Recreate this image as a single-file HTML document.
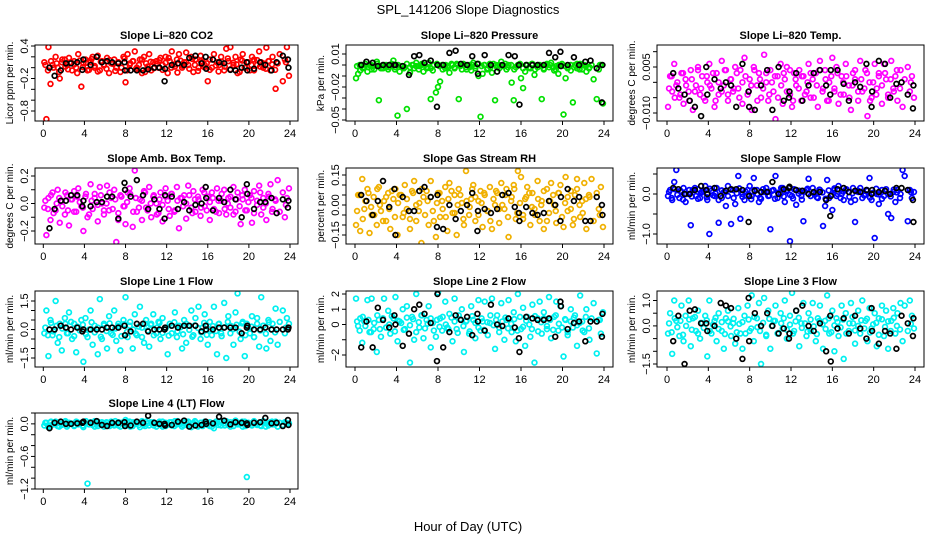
<!DOCTYPE html>
<html><head><meta charset="utf-8"><title>SPL_141206 Slope Diagnostics</title>
<style>
body{margin:0;background:#fff;}
svg{display:block;font-family:"Liberation Sans",Arial,sans-serif;}
.tick{font-size:11px;fill:#000;}
.ptitle{font-size:11px;font-weight:bold;fill:#000;}
.ytitle{font-size:10px;fill:#000;}
</style></head>
<body>
<svg id="chart" width="936" height="540" viewBox="0 0 936 540" xmlns="http://www.w3.org/2000/svg">
<rect width="936" height="540" fill="#fff"/>
<text x="468" y="14" text-anchor="middle" font-size="13">SPL_141206  Slope Diagnostics</text>
<text x="468" y="531" text-anchor="middle" font-size="13">Hour of Day (UTC)</text>
<g id="panels"></g>
</svg>
<script>
// shared timestamps (hours UTC)
const hours = [0.1,0.3,0.5,0.7,0.9,1.2,1.4,1.6,1.8,2.1,
2.3,2.5,2.8,3.0,3.2,3.4,3.7,3.9,4.1,4.3,
4.6,4.8,5.0,5.3,5.5,5.7,5.9,6.2,6.4,6.6,
6.9,7.1,7.3,7.5,7.8,8.0,8.2,8.4,8.7,8.9,
9.1,9.4,9.6,9.8,10.0,10.3,10.5,10.7,11.0,11.2,
11.4,11.6,11.9,12.1,12.3,12.5,12.8,13.0,13.2,13.5,
13.7,13.9,14.1,14.4,14.6,14.8,15.1,15.3,15.5,15.7,
16.0,16.2,16.4,16.6,16.9,17.1,17.3,17.6,17.8,18.0,
18.2,18.5,18.7,18.9,19.2,19.4,19.6,19.8,20.1,20.3,
20.5,20.8,21.0,21.2,21.4,21.7,21.9,22.1,22.3,22.6,
22.8,23.0,23.3,23.5,23.7,23.9];
const hoursBand = [0.2,0.45,0.75,1.0,1.3,1.55,1.85,2.15,2.4,2.7,
3.0,3.3,3.55,3.85,4.15,4.45,4.7,5.0,5.3,5.6,
5.9,6.15,6.45,6.75,7.0,7.3,7.6,7.9,8.15,8.45,
8.75,9.0,9.3,9.6,9.9,10.15,10.45,10.75,11.05,11.3,
11.6,11.9,12.2,12.45,12.75,13.05,13.35,13.6,13.9,14.2,
14.5,14.75,15.05,15.35,15.65,15.9,16.2,16.5,16.8,17.05,
17.35,17.65,17.95,18.2,18.5,18.8,19.1,19.35,19.65,19.95,
20.25,20.5,20.8,21.1,21.4,21.65,21.95,22.25,22.55,23.6];
const hoursBlack = [0.6,1.1,1.7,2.2,2.7,3.3,3.8,3.9,4.6,5.2,5.7,6.2,6.7,7.3,7.9,7.95,8.5,9.1,9.7,10.2,10.8,11.3,11.8,11.85,12.5,13.1,13.7,14.2,14.8,15.4,15.8,15.85,16.5,17.1,17.6,18.2,18.7,19.3,19.8,19.85,20.5,21.1,21.6,22.2,22.7,23.3,23.8,23.85];
const xTicks = [0,4,8,12,16,20,24];

const titles = ["Slope Li\u2013820 CO2","Slope Li\u2013820 Pressure","Slope Li\u2013820 Temp.","Slope Amb. Box Temp.","Slope Gas Stream RH","Slope Sample Flow","Slope Line 1 Flow","Slope Line 2 Flow","Slope Line 3 Flow","Slope Line 4 (LT) Flow"];
const yTitles = ["Licor ppm per min.","kPa per min.","degrees C per min.","degrees C per min.","percent per min.","ml/min per min.","ml/min per min.","ml/min per min.","ml/min per min.","ml/min per min."];

const yTicks = [
[0.4,0.2,0,-0.2,-0.4,-0.6,-0.8],
[0.01,0,-0.01,-0.02,-0.03,-0.04,-0.05],
[0.01,0.005,0,-0.005,-0.01],
[0.2,0.1,0,-0.1,-0.2],
[0.15,0.1,0.05,0,-0.05,-0.1,-0.15],
[0.5,0,-0.5,-1.0],
[1.5,1,0.5,0,-0.5,-1,-1.5],
[2,1,0,-1,-2],
[1,0.5,0,-0.5,-1,-1.5],
[0.2,0,-0.2,-0.4,-0.6,-0.8,-1.0,-1.2]];
const yLabelVals = [[0.4,-0.2,-0.8],[0.01,-0.02,-0.05],[0.005,-0.01],[0.2,0,-0.2],[0.15,0,-0.15],[0,-1.0],[1.5,0,-1.5],[2,1,0,-2],[1,0,-1.5],[0,-0.6,-1.2]];
const yLabelText = [["0.4","\u22120.2","\u22120.8"],["0.01","\u22120.02","\u22120.05"],["0.005","\u22120.010"],["0.2","0.0","\u22120.2"],["0.15","0.00","\u22120.15"],["0.0","\u22121.0"],["1.5","0.0","\u22121.5"],["2","1","0","\u22122"],["1.0","0.0","\u22121.5"],["0.0","\u22120.6","\u22121.2"]];

const co2 = [0.1,-0.95,0.38,-0.3,0.05,0.2,0.0,-0.2,0.1,0.15,0.05,0.18,-0.05,0.12,0.0,0.25,-0.35,0.08,0.15,-0.05,0.1,0.2,0.0,0.22,-0.05,0.12,0.06,0.18,-0.1,0.08,0.15,0.0,0.1,-0.08,0.2,-0.27,0.25,0.05,0.12,0.3,0.0,0.15,-0.1,0.2,0.08,0.25,-0.05,0.1,0.12,0.0,0.18,0.05,0.2,-0.1,0.12,0.3,0.02,0.15,0.25,0.0,0.1,0.28,0.05,0.2,-0.08,0.15,0.0,0.22,0.1,0.05,-0.25,0.15,0.0,0.25,0.1,0.05,0.2,-0.05,0.35,0.12,0.38,0.05,0.2,-0.1,0.15,0.25,0.0,0.1,-0.05,0.2,0.15,0.05,0.3,0.1,0.0,0.37,0.12,-0.05,0.2,-0.39,0.08,0.25,-0.25,0.15,0.38,-0.15];
const co2Band = [0.05,-0.05,0.12,0.0,0.08,-0.08,0.15,0.02,-0.03,0.1,0.06,-0.1,0.13,0.01,0.09,-0.04,0.16,0.03,-0.07,0.11,0.04,-0.02,0.14,0.07,-0.06,0.1,0.0,0.17,-0.05,0.08,0.12,-0.03,0.05,0.15,-0.08,0.02,0.11,-0.01,0.07,0.14,-0.04,0.09,0.18,0.0,0.06,-0.09,0.13,0.03,0.1,-0.02,0.16,0.05,-0.06,0.12,0.01,0.08,-0.04,0.15,0.04,-0.07,0.11,0.02,0.17,-0.03,0.09,0.06,-0.08,0.13,0.0,0.1,0.05,-0.05,0.14,0.02,0.08,-0.02,0.12,0.06,-0.04,0.1];
const co2Black = [0.0,-0.15,-0.05,0.08,0.08,0.1,-0.04,0.15,0.05,0.2,0.1,0.12,0.1,0.08,0.1,-0.05,-0.05,-0.05,-0.05,-0.03,0.0,0.0,-0.25,-0.02,0.05,0.08,0.05,0.18,0.22,0.08,0.2,-0.02,0.15,0.1,0.08,-0.04,-0.05,0.0,0.1,-0.05,-0.02,0.1,0.05,-0.05,0.1,0.22,0.15,0.0];
const pressure = [-0.012,-0.008,-0.005,0.0,-0.002,-0.006,0.0,-0.004,-0.001,0.003,-0.032,-0.003,0.0,-0.002,-0.004,0.0,0.004,-0.002,-0.046,-0.006,-0.001,-0.002,-0.04,-0.007,0.0,-0.003,0.002,-0.001,0.0,-0.006,-0.003,0.002,-0.031,-0.005,-0.025,-0.02,-0.015,0.0,-0.003,-0.001,-0.007,0.0,-0.002,0.001,-0.031,-0.004,0.0,-0.002,0.0,-0.005,0.002,-0.001,-0.01,-0.047,-0.008,0.0,-0.003,0.001,-0.007,-0.032,-0.002,0.0,0.003,-0.001,-0.004,0.0,-0.016,-0.032,-0.002,0.0,-0.012,-0.021,-0.006,0.0,-0.003,0.001,-0.009,-0.002,0.0,-0.031,-0.004,0.0,-0.002,0.002,-0.005,-0.001,-0.008,0.0,-0.045,-0.012,-0.002,-0.005,-0.034,0.0,-0.003,0.001,-0.004,0.0,-0.006,-0.002,0.0,-0.013,-0.031,-0.004,0.0,-0.035];
const pressureBand = [-0.001,0.0,-0.003,0.001,-0.002,0.0,-0.004,0.001,-0.001,-0.003,0.0,-0.002,0.001,-0.004,0.0,-0.001,-0.003,0.001,-0.002,0.0,-0.001,-0.004,0.001,0.0,-0.002,-0.003,0.0,0.001,-0.001,-0.004,0.0,-0.002,0.001,-0.003,0.0,-0.001,0.001,-0.004,-0.002,0.0,-0.003,0.001,-0.001,0.0,-0.004,-0.002,0.001,0.0,-0.003,-0.001,0.001,-0.002,0.0,-0.004,-0.001,0.001,-0.003,0.0,-0.002,0.001,-0.004,0.0,-0.001,-0.003,0.001,0.0,-0.002,-0.004,0.0,0.001,-0.001,-0.003,0.0,-0.002,0.001,-0.004,0.0,-0.001,-0.003,0.0];
const pressureBlack = [0.0,0.003,0.002,-0.001,0.0,0.0,0.0,0.0,-0.001,-0.009,0.008,0.009,0.002,0.004,-0.038,0.0,0.0,0.011,0.013,0.001,0.0,0.008,0.001,-0.008,0.009,0.0,-0.006,0.0,0.009,0.008,0.0,-0.036,0.0,0.0,0.0,0.0,0.011,0.007,0.012,-0.001,0.0,0.007,0.0,0.003,0.004,-0.003,-0.034,0.0];
const temp = [-0.008,0.002,-0.003,0.006,-0.001,-0.005,0.003,-0.007,0.001,-0.003,0.004,-0.009,-0.001,0.005,-0.004,0.002,-0.006,0.0,0.006,-0.002,-0.008,0.003,-0.004,0.007,-0.001,0.004,-0.006,0.001,-0.003,0.005,-0.002,0.004,-0.007,0.008,-0.004,0.001,-0.009,0.005,-0.001,0.003,-0.005,0.009,0.0,-0.006,0.004,-0.003,-0.012,0.002,0.006,-0.007,0.001,0.005,-0.004,-0.008,0.003,-0.001,0.004,-0.006,0.002,-0.003,0.006,-0.005,0.001,0.003,-0.008,0.007,-0.002,0.004,-0.006,0.0,0.008,-0.003,0.005,-0.007,0.002,-0.004,0.006,-0.001,-0.009,0.003,0.001,-0.006,0.007,-0.003,0.004,-0.011,0.0,-0.005,0.006,-0.002,0.003,-0.007,0.006,0.001,-0.004,0.007,-0.002,0.002,-0.006,0.004,-0.008,0.001,0.005,-0.003,0.002,-0.005];
const tempBand = [-0.002,0.002,-0.005,0.0,-0.004,0.003,-0.001,-0.006,0.001,-0.003,0.004,-0.002,-0.005,0.002,-0.001,0.003,-0.006,0.0,-0.003,0.004,-0.004,0.001,-0.002,0.003,-0.005,0.0,0.002,-0.003,-0.001,0.004,-0.006,0.001,-0.002,0.003,-0.004,0.0,0.002,-0.005,-0.001,0.003,-0.003,0.004,-0.006,0.001,-0.002,0.002,-0.004,0.0,0.003,-0.005,-0.001,0.004,-0.003,0.001,-0.006,0.002,-0.002,0.003,-0.004,0.0,0.002,-0.005,-0.001,0.004,-0.003,0.001,-0.002,0.003,-0.006,0.0,-0.004,0.002,-0.001,0.003,-0.005,0.001,-0.003,0.004,-0.002,0.0];
const tempBlack = [0.003,-0.002,-0.004,-0.006,-0.008,-0.011,0.005,-0.004,0.001,-0.002,0.0,-0.001,-0.008,0.006,-0.003,-0.008,-0.009,-0.001,0.004,-0.009,0.005,-0.006,-0.005,-0.003,0.003,-0.006,-0.001,0.003,0.004,-0.001,-0.004,0.004,0.004,-0.0005,-0.006,0.0,-0.0015,0.006,-0.008,-0.003,0.007,0.006,-0.005,-0.0005,0.0,-0.004,-0.0085,-0.001];
const ambTemp = [-0.03,-0.23,0.04,-0.12,0.08,-0.05,0.1,-0.14,0.02,-0.08,0.06,-0.16,0.03,0.09,-0.06,0.11,-0.02,-0.2,0.05,-0.1,0.14,-0.04,0.07,-0.13,0.12,0.0,-0.08,0.13,-0.05,0.04,0.1,-0.28,-0.12,0.06,-0.02,-0.15,0.08,0.11,-0.17,0.24,-0.06,0.03,-0.12,0.09,-0.03,0.12,-0.1,0.05,0.0,-0.07,0.08,-0.13,0.11,0.02,-0.09,0.07,-0.05,0.12,-0.18,0.04,0.06,-0.11,0.13,-0.03,0.09,-0.06,0.03,-0.09,0.1,-0.02,0.05,-0.12,0.08,-0.04,0.11,-0.07,0.02,0.1,-0.08,0.04,-0.03,0.12,-0.06,0.08,-0.15,0.03,0.1,-0.05,0.06,-0.14,0.09,-0.01,0.13,-0.08,0.04,-0.12,0.07,0.14,-0.04,0.02,0.17,-0.06,0.08,-0.1,0.04,0.11];
const ambTempBand = [0.02,-0.04,0.06,-0.07,0.0,0.04,-0.02,0.08,-0.05,0.03,-0.06,0.05,0.01,-0.03,0.07,-0.08,0.02,0.04,-0.01,0.06,-0.05,0.0,0.08,-0.04,0.03,-0.07,0.05,-0.02,0.01,0.07,-0.06,0.04,-0.03,0.02,0.08,-0.05,0.0,0.06,-0.08,0.03,-0.01,0.05,-0.04,0.07,-0.06,0.02,0.04,-0.02,0.0,0.06,-0.07,0.03,0.05,-0.03,0.08,-0.05,0.01,0.04,-0.06,0.02,0.07,-0.04,0.0,0.05,-0.08,0.03,-0.02,0.06,-0.05,0.01,0.04,-0.07,0.02,0.08,-0.03,0.0,0.05,-0.06,0.03,-0.01];
const ambTempBlack = [-0.18,-0.04,0.02,0.02,0.06,0.06,-0.02,0.02,-0.02,0.01,0.01,0.05,0.05,-0.11,0.15,0.1,0.05,0.17,0.06,-0.04,0.03,-0.04,-0.11,0.06,0.05,-0.04,0.01,-0.05,-0.01,0.0,0.12,0.04,-0.05,0.04,0.01,0.1,0.03,-0.1,0.14,0.07,-0.04,0.01,0.01,0.04,-0.07,0.03,-0.03,0.02];
const rh = [-0.1,0.05,-0.13,0.13,-0.02,0.08,-0.14,-0.05,0.04,-0.1,0.09,-0.03,0.02,-0.08,0.06,-0.12,0.03,0.08,-0.15,0.05,-0.06,0.1,-0.02,-0.12,0.07,0.12,-0.08,0.01,-0.19,0.04,0.07,-0.1,0.12,-0.03,-0.16,0.06,-0.06,0.02,0.09,-0.13,0.11,-0.04,0.05,-0.15,0.08,0.01,-0.1,0.17,-0.05,0.03,0.1,-0.08,0.02,0.07,-0.11,0.05,-0.03,0.09,-0.12,0.0,0.06,-0.09,0.11,-0.02,0.08,-0.16,0.04,0.1,-0.07,0.17,0.14,-0.05,0.03,0.09,-0.1,0.06,-0.02,0.12,-0.08,0.02,-0.12,0.08,-0.04,0.11,0.0,-0.09,0.06,0.1,-0.11,0.14,-0.03,0.07,-0.1,0.05,0.13,-0.06,0.02,0.11,-0.12,0.04,0.13,-0.08,0.06,-0.02,0.09,-0.11];
const rhBand = [-0.03,0.05,-0.07,0.02,0.06,-0.01,-0.05,0.08,0.0,-0.08,0.04,-0.02,0.07,-0.06,0.01,0.05,-0.04,0.03,-0.07,0.06,0.0,-0.03,0.08,-0.05,0.02,0.04,-0.08,0.01,0.06,-0.02,-0.06,0.03,0.07,-0.04,0.0,0.05,-0.07,0.02,-0.01,0.08,0.04,-0.05,0.01,0.06,-0.03,-0.08,0.03,0.07,-0.02,0.0,0.05,-0.06,0.02,0.08,-0.04,0.01,-0.07,0.04,0.06,-0.01,-0.05,0.03,0.0,0.07,-0.08,0.02,0.05,-0.03,0.06,-0.06,0.01,0.04,-0.02,-0.07,0.08,0.0,-0.04,0.03,0.05,-0.05];
const rhBlack = [0.05,0.02,-0.05,0.02,0.12,-0.01,0.08,-0.15,0.04,-0.03,-0.03,0.07,0.09,0.04,-0.11,0.05,-0.12,0.0,-0.07,-0.03,0.0,0.06,-0.13,-0.03,-0.02,-0.04,-0.02,0.05,0.06,-0.01,-0.04,-0.08,-0.01,-0.04,-0.05,-0.04,0.02,0.0,-0.08,0.04,0.08,0.02,0.04,-0.08,-0.08,0.04,0.0,-0.05];
const sampleFlow = [-0.05,0.1,-0.15,0.3,0.6,-0.1,0.05,0.15,-0.2,0.0,-0.78,0.1,-0.05,0.12,-0.1,0.05,0.2,-0.15,-1.0,0.08,-0.05,0.15,-0.72,-0.1,0.05,-0.3,0.2,-0.75,0.1,-0.25,0.45,-0.62,0.0,-0.15,0.1,0.2,-0.05,0.4,0.1,-0.2,-0.12,0.05,0.15,-0.05,-0.88,0.1,0.45,-0.1,0.0,0.15,-0.2,0.1,-1.18,-0.05,0.12,-0.27,0.08,-0.05,-0.68,0.1,0.38,-0.05,0.15,0.0,-0.1,0.1,-0.8,-0.3,0.35,-0.1,-0.4,0.1,-0.05,0.2,0.0,-0.15,0.1,0.05,-0.2,0.15,-0.7,0.05,0.15,-0.1,0.0,0.08,0.4,-0.15,-1.1,0.0,-0.25,0.1,-0.05,0.12,-0.5,-0.6,0.05,-0.2,0.1,0.0,0.6,0.45,-0.68,0.1,-0.1,0.05];
const sampleFlowBand = [0.05,-0.1,0.12,-0.02,0.08,-0.14,0.0,0.1,-0.06,0.15,-0.12,0.03,0.07,-0.08,0.13,-0.03,0.01,-0.15,0.09,0.04,-0.05,0.11,-0.1,0.02,0.14,-0.07,0.06,-0.01,-0.13,0.1,0.0,-0.09,0.12,0.05,-0.04,0.08,-0.12,0.03,0.15,-0.06,0.07,-0.02,-0.11,0.1,0.01,-0.14,0.06,0.13,-0.05,0.02,-0.08,0.11,0.04,-0.12,0.09,-0.03,0.14,0.0,-0.1,0.06,0.12,-0.07,0.02,-0.15,0.08,0.05,-0.04,0.1,-0.09,0.03,0.13,-0.01,-0.12,0.07,0.0,-0.06,0.11,0.04,-0.1,0.05];
const sampleFlowBlack = [0.15,0.12,0.0,0.0,0.1,0.2,0.1,0.0,0.15,-0.05,0.08,0.12,0.12,0.1,-0.7,-0.05,0.08,0.05,0.05,0.3,0.0,0.12,0.15,0.18,0.1,0.08,0.0,0.05,0.05,-0.15,-0.55,-0.05,0.12,0.15,0.05,0.08,0.05,0.1,0.0,0.1,0.05,0.08,0.0,0.15,0.15,0.1,-0.15,-0.7];
const line1 = [-0.2,1.0,-1.4,0.5,-0.3,1.5,-0.7,0.3,-1.1,0.6,-0.2,0.9,-0.5,0.3,-1.2,0.1,0.5,-1.7,0.6,-0.4,1.0,-0.8,0.2,-1.3,1.6,-0.5,0.3,-1.0,0.7,-0.2,1.0,-0.6,0.3,-1.1,0.5,1.7,-0.4,0.2,-1.0,0.8,-0.3,1.2,0.1,-0.7,0.5,-0.9,0.3,0.8,-0.2,0.4,-0.5,0.6,0.1,-1.3,0.3,-0.2,0.9,-0.4,0.2,-1.0,0.5,-0.7,0.2,1.0,-0.3,0.6,1.2,-0.5,0.1,0.8,-0.8,0.4,-0.3,1.2,-1.3,0.3,-0.2,1.4,-1.5,0.7,0.2,-0.8,0.9,1.9,-0.5,0.4,-1.4,0.3,-0.2,0.7,-0.4,0.6,-0.9,1.7,0.2,-1.0,0.5,-0.6,0.3,1.1,-0.8,0.4,1.0,-0.2,0.6,0.3];
const line1Band = [0.1,-0.3,0.35,-0.1,0.2,-0.4,0.05,0.3,-0.2,0.4,-0.35,0.15,-0.05,0.25,-0.25,0.0,0.38,-0.15,0.1,-0.38,0.22,-0.08,0.32,-0.28,0.05,0.18,-0.35,0.28,-0.12,0.4,0.0,-0.22,0.15,-0.4,0.3,-0.05,0.25,-0.3,0.1,0.35,-0.18,0.05,-0.32,0.2,0.38,-0.1,0.12,-0.25,0.3,-0.02,-0.38,0.22,0.08,-0.15,0.35,-0.28,0.0,0.18,-0.08,0.28,-0.35,0.12,0.4,-0.2,0.02,0.25,-0.12,0.32,-0.3,0.08,0.15,-0.4,0.3,-0.05,0.2,-0.22,0.38,0.0,-0.15,0.1];
const line1Black = [0.0,0.0,0.2,0.1,0.0,0.1,-0.1,0.0,0.0,0.0,0.0,0.1,0.1,0.1,0.2,-0.3,-0.1,0.3,0.3,-0.1,0.0,0.0,0.0,0.1,0.2,0.1,0.2,0.2,0.2,-0.1,0.2,0.0,0.0,0.1,0.1,0.1,0.1,-0.2,0.1,0.2,0.0,0.0,0.1,0.0,0.0,0.0,0.0,0.1];
const line2 = [1.7,-0.1,0.4,-1.2,0.2,1.6,-0.5,1.7,-0.3,-1.8,0.3,-0.8,1.7,-0.2,0.9,-0.6,0.4,1.8,-1.1,0.2,1.0,-0.3,1.2,-2.5,0.5,-1.0,2.0,-0.2,0.6,-0.9,0.3,1.2,-1.5,0.1,-0.8,2.1,0.4,-0.4,1.5,-0.2,0.7,-1.1,1.7,-0.3,0.6,1.0,-1.8,0.2,-0.6,1.2,0.3,-0.9,1.6,-0.4,0.2,1.5,-0.7,0.1,1.7,-1.6,0.6,-0.2,1.4,-1.0,0.3,1.6,-0.5,0.8,-1.1,2.0,-0.3,1.1,-1.4,0.5,-0.8,1.3,-2.5,0.4,1.5,-0.6,0.8,-0.3,1.8,-0.9,0.5,1.5,-0.4,1.2,-2.1,0.3,-0.7,1.0,-0.2,0.6,-1.4,1.9,0.2,-0.5,1.0,-1.0,0.4,1.4,-1.9,0.3,-0.6,0.8];
const line2Band = [0.2,-0.4,0.5,-0.1,0.3,-0.5,0.1,0.6,-0.3,0.4,-0.2,0.0,0.55,-0.45,0.25,0.1,-0.35,0.45,-0.05,0.35,-0.5,0.15,0.6,-0.25,0.05,0.4,-0.4,0.3,-0.15,0.5,0.0,-0.3,0.45,0.2,-0.55,0.35,-0.1,0.25,-0.45,0.55,0.1,-0.2,0.4,-0.35,0.15,0.6,-0.05,0.3,-0.5,0.2,0.45,-0.25,0.05,0.35,-0.4,0.5,-0.15,0.25,0.0,-0.3,0.55,-0.45,0.15,0.4,-0.1,0.3,-0.35,0.6,0.05,-0.2,0.35,-0.5,0.2,0.45,-0.05,0.1,-0.4,0.5,-0.25,0.3];
const line2Black = [-1.5,0.2,-1.5,1.1,0.3,-0.2,0.6,0.0,-1.4,-0.6,1.0,1.3,0.7,0.1,-2.4,2.0,-1.5,-0.5,0.6,0.3,0.5,-0.7,0.7,0.2,-0.4,1.3,0.0,-0.1,0.4,-0.2,-0.9,-1.8,0.5,0.4,0.3,0.3,0.4,-0.8,1.5,1.2,-0.3,0.1,0.2,-1.1,0.2,0.2,-0.8,0.7];
const line3 = [-0.3,0.5,-1.1,1.0,0.2,-0.4,0.8,-0.6,0.4,1.0,-0.8,0.3,-0.2,0.6,-0.5,0.1,0.4,-1.2,1.0,-0.3,0.2,-0.6,0.5,-0.2,-0.9,0.3,0.6,-0.4,0.1,-0.7,0.7,-0.3,-0.9,0.4,0.8,-0.2,1.2,-0.6,0.3,0.9,-1.5,1.1,-0.4,0.6,-0.9,0.2,0.8,-0.3,0.5,-0.1,1.0,-0.5,0.4,1.3,-0.2,0.6,-0.8,0.1,0.9,-0.4,0.5,-0.2,0.9,-0.6,0.3,0.8,-0.9,0.2,1.2,-0.3,0.6,-1.0,0.3,-0.4,0.8,-1.3,0.5,-0.2,0.9,0.1,-0.7,0.6,-0.3,1.0,0.2,-0.6,0.7,-0.1,0.5,-0.8,0.3,0.8,-0.4,0.6,-0.9,0.2,0.7,-0.3,0.5,0.9,-0.6,0.8,-0.2,1.0,0.4,-0.1];
const line3Band = [0.1,-0.25,0.3,-0.05,0.2,-0.35,0.0,0.25,-0.15,0.35,-0.3,0.12,-0.08,0.22,-0.2,0.05,0.32,-0.12,0.15,-0.32,0.18,-0.02,0.28,-0.25,0.08,0.15,-0.3,0.25,-0.1,0.35,-0.05,-0.2,0.12,-0.35,0.28,0.0,0.2,-0.28,0.1,0.3,-0.15,0.05,-0.3,0.18,0.32,-0.08,0.1,-0.22,0.25,-0.02,-0.32,0.2,0.06,-0.12,0.3,-0.25,0.02,0.15,-0.06,0.25,-0.3,0.1,0.35,-0.18,0.0,0.22,-0.1,0.28,-0.26,0.06,0.12,-0.35,0.26,-0.04,0.18,-0.2,0.32,0.0,-0.14,0.08];
const line3Black = [-0.6,0.4,-1.5,0.6,0.65,0.1,0.1,-0.2,0.0,0.9,0.8,0.7,-0.5,-1.3,1.1,-0.6,0.5,0.0,0.5,0.0,-0.3,-0.1,-0.5,-0.3,0.6,0.8,0.0,-0.2,0.1,-1.0,0.4,-1.4,-0.1,0.3,-0.3,0.4,-0.1,-0.5,0.7,-0.2,-0.7,-0.2,-0.3,-0.9,0.4,0.1,-0.4,0.3];
const line4 = [-0.03,0.02,-0.06,0.03,-0.01,0.04,-0.04,0.01,-0.02,0.03,-0.05,0.02,0.0,-0.03,0.04,-0.01,0.02,-0.06,0.01,-1.1,0.03,-0.02,0.05,-0.04,0.01,0.03,-0.05,0.02,-0.01,0.04,-0.03,0.0,0.03,-0.05,0.02,0.07,-0.02,0.04,-0.04,0.01,0.03,-0.06,0.02,-0.01,0.04,-0.03,0.01,0.03,-0.05,0.02,-0.02,0.04,-0.04,-1.32,0.03,-0.03,0.05,-0.01,0.02,-0.05,0.03,-0.02,0.04,-0.06,0.01,0.03,-0.03,0.02,-0.04,0.04,-0.02,0.03,-0.05,-0.08,0.02,0.04,-0.03,0.01,0.05,-0.02,0.03,-0.04,0.06,-0.01,0.02,-0.05,0.04,-0.98,0.01,-0.03,0.04,-0.02,0.02,-0.04,0.05,0.01,-0.03,0.03,-0.01,0.04,-0.05,0.02,-0.02,0.03,0.0,0.01];
const line4Band = [0.02,-0.03,0.04,-0.01,0.03,-0.05,0.0,0.05,-0.02,0.01,-0.04,0.03,0.0,-0.03,0.05,-0.01,0.02,-0.05,0.04,-0.02,0.01,0.03,-0.04,0.0,0.05,-0.03,0.02,-0.01,0.04,-0.05,0.03,0.0,-0.02,0.05,-0.04,0.01,0.03,-0.03,0.0,0.04,-0.05,0.02,-0.01,0.03,-0.04,0.05,0.0,-0.02,0.04,-0.03,0.01,0.05,-0.05,0.02,-0.01,0.03,-0.04,0.0,0.04,-0.02,0.05,-0.03,0.01,-0.05,0.03,0.0,-0.01,0.04,-0.04,0.02,-0.02,0.05,0.0,-0.03,0.03,-0.05,0.01,0.04,-0.01,0.02];
const line4Black = [-0.08,0.02,0.04,0.0,0.0,0.01,0.02,0.04,0.02,0.05,-0.02,-0.04,0.02,0.02,0.03,-0.04,-0.03,0.04,0.02,0.15,0.02,0.0,0.0,-0.03,-0.02,0.04,0.06,-0.05,-0.03,-0.02,0.04,0.0,0.01,0.13,0.06,-0.01,0.03,0.02,0.01,-0.02,0.02,0.03,0.11,0.01,0.02,-0.04,0.07,-0.02];

const seriesColored = [co2,pressure,temp,ambTemp,rh,sampleFlow,line1,line2,line3,line4];
const seriesBand = [co2Band,pressureBand,tempBand,ambTempBand,rhBand,sampleFlowBand,line1Band,line2Band,line3Band,line4Band];
const seriesBlack = [co2Black,pressureBlack,tempBlack,ambTempBlack,rhBlack,sampleFlowBlack,line1Black,line2Black,line3Black,line4Black];
const names = ["co2","pressure","temp","amb-temp","rh","sample-flow","line1-flow","line2-flow","line3-flow","line4-flow"];

// layout (pixels / styles)
const colBox = [[35,298,43.3,290],[346,613,355,604],[657,924,667,915]];
const rowBox = [[45,121],[168,244],[291,367],[413,489]];
const yAnchor = [[0.4,46,-0.8,111],[0.01,54,-0.05,120],[0.005,67,-0.01,113],[0.2,176,-0.2,231],[0.15,175,-0.15,235],[0,194,-1,234],[1.5,301,-1.5,358],[2,294,-2,355],[1,300.5,-1.5,364],[0.2,413,-1.2,489]];
const colors = ["#ff0000","#00e000","#ff00ff","#ff00ff","#f0b000","#0000ff","#00f0f0","#00f0f0","#00f0f0","#00f0f0"];

const NS = "http://www.w3.org/2000/svg";
const root = document.getElementById('panels');
function mk(tag, attrs, parent){const e=document.createElementNS(NS,tag);for(const k in attrs)e.setAttribute(k,attrs[k]);parent.appendChild(e);return e;}

for(let p=0;p<10;p++){
  const c=colBox[p%3], r=rowBox[Math.floor(p/3)];
  const [x0,x1,xa,xb]=c, [y0,y1]=r;
  const xs=v=>xa+(v/24)*(xb-xa);
  const a=yAnchor[p];
  const ys=v=>a[1]+(v-a[0])*(a[3]-a[1])/(a[2]-a[0]);
  const g=mk('g',{},root);
  
  
  const clipId='clip'+p;
  const cp=mk('clipPath',{id:clipId},g);
  mk('rect',{x:x0,y:y0,width:x1-x0,height:y1-y0},cp);
  const t=mk('text',{x:(x0+x1)/2,y:y0-6,'text-anchor':'middle',class:'ptitle'},g);
  t.textContent=titles[p];
  
  
  const yt=mk('text',{x:0,y:0,'text-anchor':'middle',class:'ytitle',transform:`translate(${x0-22},${(y0+y1)/2}) rotate(-90)`},g);
  yt.textContent=yTitles[p];
  
  
  const pts=mk('g',{'clip-path':`url(#${clipId})`,fill:'none'},g);
  
  
  const bd=seriesBand[p], nbd=Math.min(bd.length,hoursBand.length);
  for(let i=0;i<nbd;i++){
    const ci=mk('circle',{cx:xs(hoursBand[i]),cy:ys(bd[i]),r:2.4,stroke:colors[p],'stroke-width':1.7},pts);
    
    
  }
  const vals=seriesColored[p], n=Math.min(vals.length,hours.length);
  for(let i=0;i<n;i++){
    const ci=mk('circle',{cx:xs(hours[i]),cy:ys(vals[i]),r:2.4,stroke:colors[p],'stroke-width':1.7},pts);
    
    
  }
  const bv=seriesBlack[p], nb=Math.min(bv.length,hoursBlack.length);
  for(let i=0;i<nb;i++){
    const ci=mk('circle',{cx:xs(hoursBlack[i]),cy:ys(bv[i]),r:2.4,stroke:'#000','stroke-width':1.7},pts);
    
    
  }
  const bx=mk('rect',{x:x0,y:y0,width:x1-x0,height:y1-y0,fill:'none',stroke:'#000','stroke-width':1},g);
  
  
  const xg=mk('g',{stroke:'#000','stroke-width':1},g);
  
  
  xTicks.forEach(v=>{
    mk('line',{x1:xs(v),x2:xs(v),y1:y1,y2:y1+4},xg);
    const tl=mk('text',{x:xs(v),y:y1+16,'text-anchor':'middle',class:'tick',stroke:'none'},xg);
    tl.textContent=String(v);
    
    
  });
  const yg=mk('g',{stroke:'#000','stroke-width':1},g);
  
  
  yTicks[p].forEach(v=>{mk('line',{x1:x0-4,x2:x0,y1:ys(v),y2:ys(v)},yg);});
  yLabelVals[p].forEach((v,i)=>{
    const tl=mk('text',{x:0,y:0,'text-anchor':'middle',class:'tick',stroke:'none',transform:`translate(${x0-7},${ys(v)}) rotate(-90)`},yg);
    tl.textContent=yLabelText[p][i];
    
    
  });
}
</script>
</body></html>
